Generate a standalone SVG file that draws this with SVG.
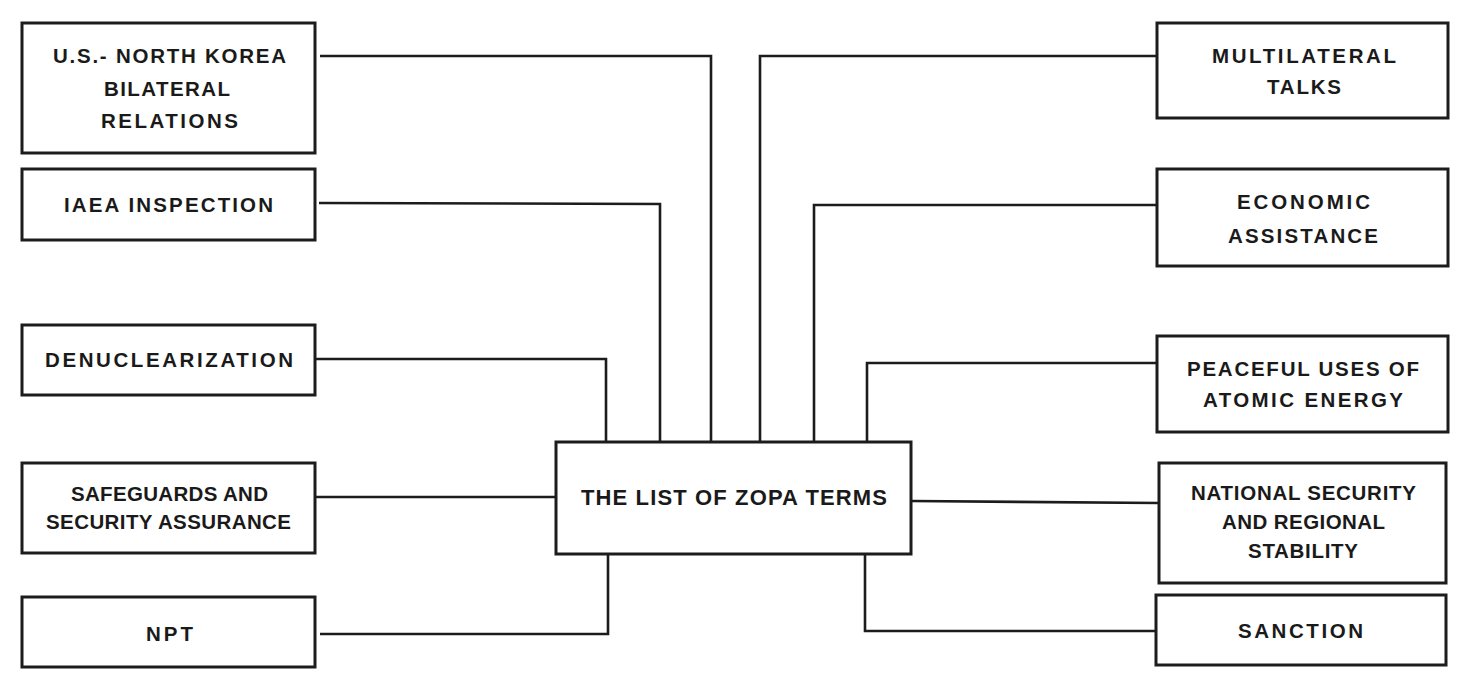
<svg xmlns="http://www.w3.org/2000/svg" width="1460" height="677" viewBox="0 0 1460 677">
<style>
.box{fill:#fff;stroke:#1c1c1c;stroke-width:3}
.lbl{font-family:"Liberation Sans",Arial,sans-serif;font-weight:bold;font-size:20.5px;fill:#1a1a1a;text-anchor:start}
.main{font-size:22px}
.con path{fill:none;stroke:#1c1c1c;stroke-width:2.6;stroke-linejoin:miter}
</style>
<rect width="1460" height="677" fill="#fff"/>
<g class="con" id="connectors">
<path d="M320 56 H711 V442"/>
<path d="M319 203 L660 204 V442"/>
<path d="M316 359 H606 V442"/>
<path d="M316 497 H556"/>
<path d="M320 634 H608 V554"/>
<path d="M1157 56 H760 V442"/>
<path d="M1157 205 H814 V442"/>
<path d="M1157 363 H867 V442"/>
<path d="M911 501 L1159 503"/>
<path d="M1156 631 H865 V554"/>
</g>
<g id="center">
<rect class="box" x="556" y="442" width="355" height="112"/>
<text class="lbl main" x="581" y="505" textLength="306" lengthAdjust="spacing">THE LIST OF ZOPA TERMS</text>
</g>
<g id="us-nk">
<rect class="box" x="22" y="23" width="293" height="130"/>
<text class="lbl" x="53" y="63" textLength="233" lengthAdjust="spacing">U.S.- NORTH KOREA</text>
<text class="lbl" x="104" y="96" textLength="126" lengthAdjust="spacing">BILATERAL</text>
<text class="lbl" x="101" y="128" textLength="137" lengthAdjust="spacing">RELATIONS</text>
</g>
<g id="iaea">
<rect class="box" x="22" y="169" width="293" height="71"/>
<text class="lbl" x="64" y="212" textLength="209" lengthAdjust="spacing">IAEA INSPECTION</text>
</g>
<g id="denuc">
<rect class="box" x="22" y="325" width="293" height="70"/>
<text class="lbl" x="45" y="367" textLength="248" lengthAdjust="spacing">DENUCLEARIZATION</text>
</g>
<g id="safeguards">
<rect class="box" x="22" y="463" width="293" height="90"/>
<text class="lbl" x="71" y="501" textLength="197" lengthAdjust="spacing">SAFEGUARDS AND</text>
<text class="lbl" x="46" y="529" textLength="245" lengthAdjust="spacing">SECURITY ASSURANCE</text>
</g>
<g id="npt">
<rect class="box" x="22" y="597" width="293" height="70"/>
<text class="lbl" x="146" y="641" textLength="47" lengthAdjust="spacing">NPT</text>
</g>
<g id="multilateral">
<rect class="box" x="1157" y="23" width="291" height="95"/>
<text class="lbl" x="1212" y="63" textLength="184" lengthAdjust="spacing">MULTILATERAL</text>
<text class="lbl" x="1267" y="94" textLength="74" lengthAdjust="spacing">TALKS</text>
</g>
<g id="economic">
<rect class="box" x="1157" y="169" width="291" height="97"/>
<text class="lbl" x="1237" y="209" textLength="133" lengthAdjust="spacing">ECONOMIC</text>
<text class="lbl" x="1228" y="243" textLength="150" lengthAdjust="spacing">ASSISTANCE</text>
</g>
<g id="peaceful">
<rect class="box" x="1157" y="336" width="291" height="96"/>
<text class="lbl" x="1187" y="376" textLength="232" lengthAdjust="spacing">PEACEFUL USES OF</text>
<text class="lbl" x="1203" y="407" textLength="200" lengthAdjust="spacing">ATOMIC ENERGY</text>
</g>
<g id="national">
<rect class="box" x="1159" y="463" width="287" height="120"/>
<text class="lbl" x="1191" y="500" textLength="225" lengthAdjust="spacing">NATIONAL SECURITY</text>
<text class="lbl" x="1222" y="529" textLength="163" lengthAdjust="spacing">AND REGIONAL</text>
<text class="lbl" x="1248" y="558" textLength="110" lengthAdjust="spacing">STABILITY</text>
</g>
<g id="sanction">
<rect class="box" x="1156" y="595" width="290" height="70"/>
<text class="lbl" x="1238" y="638" textLength="125" lengthAdjust="spacing">SANCTION</text>
</g>
</svg>
